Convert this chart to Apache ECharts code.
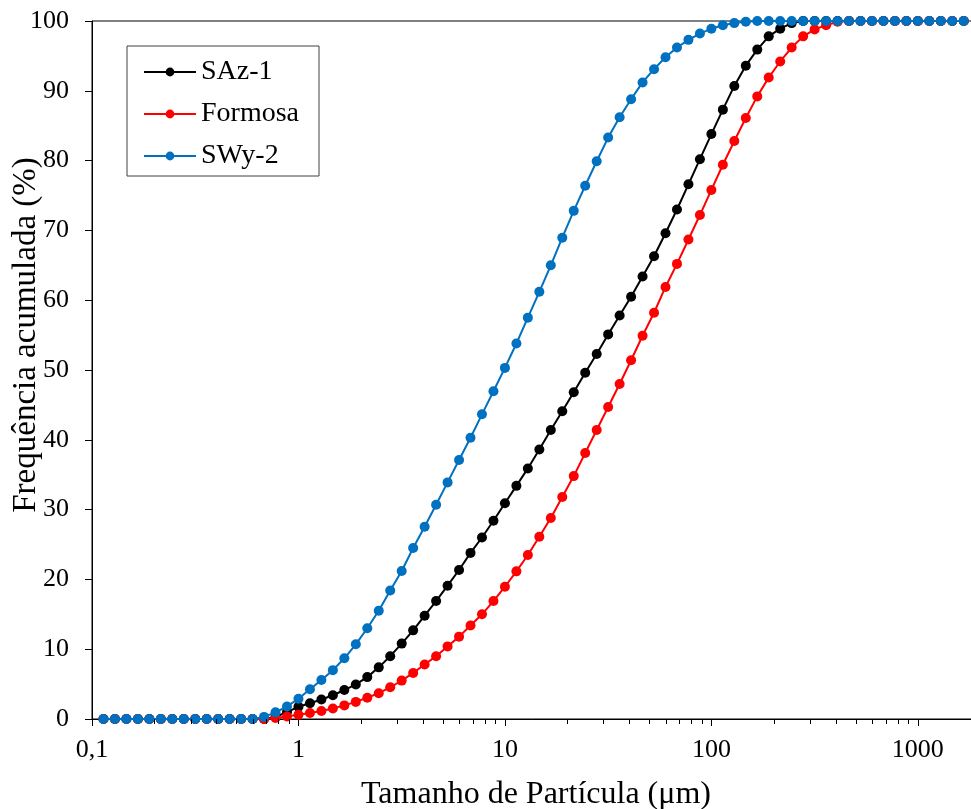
<!DOCTYPE html>
<html>
<head>
<meta charset="utf-8">
<script src="https://cdn.jsdelivr.net/npm/echarts@6/dist/echarts.min.js"></script>
<style>
html,body{margin:0;padding:0;background:#fff;}
#chart{width:971px;height:809px;}
</style>
</head>
<body>
<div id="chart"></div>
<script>
// Particle sizes (µm)
var sizes = [
  0.11365, 0.12915, 0.14678, 0.16681, 0.18957, 0.21544, 0.24484, 0.27826, 0.31623, 0.35938, 0.40842, 0.46416, 0.52749, 0.59948, 0.68129, 0.77426, 0.87992,
  1, 1.1365, 1.2915, 1.4678, 1.6681, 1.8957, 2.1544, 2.4484, 2.7826, 3.1623, 3.5938, 4.0842, 4.6416, 5.2749, 5.9948, 6.8129, 7.7426, 8.7992,
  10, 11.365, 12.915, 14.678, 16.681, 18.957, 21.544, 24.484, 27.826, 31.623, 35.938, 40.842, 46.416, 52.749, 59.948, 68.129, 77.426, 87.992,
  100, 113.65, 129.15, 146.78, 166.81, 189.57, 215.44, 244.84, 278.26, 316.23, 359.38, 408.42, 464.16, 527.49, 599.48, 681.29, 774.26, 879.92,
  1000, 1136.5, 1291.5, 1467.8, 1668.1
];

// Cumulative frequency (%)
var saz1 = [
  0,0,0,0,0,0,0,0,0,0,0,0,0,0,0,
  0.3, 1.0, 1.75, 2.25, 2.8, 3.4, 4.15, 4.95, 6.0, 7.4, 9.0, 10.8, 12.7, 14.8, 16.9, 19.1, 21.35, 23.8, 26.0, 28.4,
  30.9, 33.4, 35.9, 38.6, 41.4, 44.1, 46.8, 49.6, 52.3, 55.1, 57.8, 60.5, 63.4, 66.3, 69.6, 73.0, 76.6, 80.2, 83.8,
  87.3, 90.7, 93.6, 95.9, 97.8, 98.9, 99.7,
  100,100,100,100,100,100,100,100,100,100,100,100,100,100,100
];
var formosa = [
  0,0,0,0,0,0,0,0,0,0,0,0,0,0,0,
  0.15, 0.35, 0.6, 0.85, 1.15, 1.5, 1.95, 2.45, 3.05, 3.7, 4.55, 5.5, 6.6, 7.8, 9.0, 10.4, 11.8, 13.4, 15.0, 16.9,
  18.95, 21.15, 23.5, 26.1, 28.8, 31.8, 34.8, 38.1, 41.4, 44.7, 48.0, 51.4, 54.9, 58.2, 61.9, 65.2, 68.7, 72.2, 75.8,
  79.4, 82.8, 86.1, 89.2, 91.9, 94.2, 96.2, 97.8, 98.8, 99.4, 99.9,
  100,100,100,100,100,100,100,100,100,100,100
];
var swy2 = [
  0,0,0,0,0,0,0,0,0,0,0,0,0,0,
  0.3, 0.95, 1.8, 2.9, 4.25, 5.6, 7.0, 8.7, 10.7, 13.0, 15.5, 18.4, 21.2, 24.5, 27.55, 30.7, 33.9, 37.1, 40.3, 43.65,
  46.95, 50.3, 53.8, 57.5, 61.2, 65.0, 68.95, 72.8, 76.4, 79.9, 83.3, 86.2, 88.8, 91.2, 93.1, 94.8, 96.2, 97.3, 98.2,
  98.9, 99.4, 99.7, 99.9,
  100,100,100,100,100,100,100,100,100,100,100,100,100,100,100,100,100,100,100
];

var seriesNames = ['SAz-1', 'Formosa', 'SWy-2'];
var seriesColors = ['#000000', '#FF0000', '#0070C0'];
var seriesValues = [saz1, formosa, swy2];

// Minor tick positions of the log axis
var minorTickValues = [
  0.2,0.3,0.4,0.5,0.6,0.7,0.8,0.9,
  2,3,4,5,6,7,8,9,
  20,30,40,50,60,70,80,90,
  200,300,400,500,600,700,800,900
];

var xTitle = 'Tamanho de Partícula (μm)';
var yTitle = 'Frequência acumulada (%)';

var FONT = '"Liberation Serif", "Times New Roman", serif';

var chart = echarts.init(document.getElementById('chart'), null, {renderer: 'canvas'});

var series = seriesNames.map(function (name, si) {
  return {
    name: name,
    type: 'line',
    data: sizes.map(function (s, i) { return [s, seriesValues[si][i]]; }),
    symbol: 'circle',
    symbolSize: 10,
    showAllSymbol: true,
    lineStyle: {color: seriesColors[si], width: 2},
    itemStyle: {color: seriesColors[si]},
    emphasis: {disabled: true},
    z: 3 + si
  };
});

series.push({
  type: 'custom',
  name: 'minorTicks',
  silent: true,
  clip: false,
  z: 10,
  data: minorTickValues.map(function (v) { return [v, 0]; }),
  renderItem: function (params, api) {
    var p = api.coord([api.value(0), api.value(1)]);
    var x = Math.round(p[0]) + 0.5;
    return {
      type: 'line',
      shape: {x1: x, y1: p[1], x2: x, y2: p[1] + 5},
      style: {stroke: '#000', lineWidth: 1}
    };
  }
});

chart.setOption({
  animation: false,
  backgroundColor: '#ffffff',
  grid: {
    left: 92, right: -9, top: 21, bottom: 90,
    show: true, borderColor: '#000', borderWidth: 1, backgroundColor: 'transparent',
    containLabel: false,
    outerBoundsMode: 'none'
  },
  legend: {
    data: seriesNames,
    orient: 'vertical',
    left: 127, top: 46,
    padding: [12, 20, 6, 16],
    itemWidth: 52, itemHeight: 11, itemGap: 14,
    backgroundColor: '#ffffff',
    borderColor: '#404040', borderWidth: 1,
    textStyle: {fontFamily: FONT, fontSize: 28, color: '#000'},
    selectedMode: false
  },
  xAxis: {
    type: 'log',
    logBase: 10,
    min: 0.1, max: 2000,
    name: xTitle,
    nameLocation: 'middle',
    nameGap: 60,
    nameTextStyle: {fontFamily: FONT, fontSize: 32, color: '#000'},
    axisLine: {show: true, onZero: false, lineStyle: {color: '#000', width: 1}},
    axisTick: {show: true, inside: false, length: 7, lineStyle: {color: '#000'}},
    splitLine: {show: false},
    minorTick: {show: false},
    axisLabel: {
      fontFamily: FONT, fontSize: 26, color: '#000', margin: 18,
      formatter: function (v) {
        var l = Math.log10(v);
        if (Math.abs(l - Math.round(l)) > 1e-6) return '';
        if (Math.round(l) > 3) return '';
        if (Math.round(l) === -1) return '0,1';
        return String(Math.round(v));
      }
    }
  },
  yAxis: {
    type: 'value',
    min: 0, max: 100, interval: 10,
    axisLine: {show: true, lineStyle: {color: '#000', width: 1}},
    axisTick: {show: true, inside: false, length: 7, lineStyle: {color: '#000'}},
    splitLine: {show: false},
    axisLabel: {fontFamily: FONT, fontSize: 26, color: '#000', margin: 23}
  },
  graphic: [{
    type: 'text',
    x: 26, y: 335,
    rotation: Math.PI / 2,
    style: {
      text: yTitle,
      font: '33px ' + FONT,
      fill: '#000',
      textAlign: 'center',
      textVerticalAlign: 'middle'
    }
  }],
  series: series
});
</script>
</body>
</html>
